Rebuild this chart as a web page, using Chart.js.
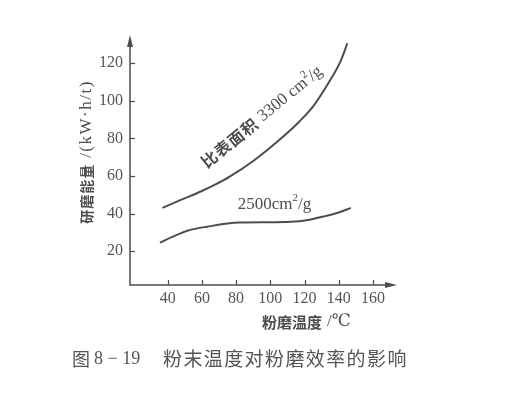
<!DOCTYPE html>
<html>
<head>
<meta charset="utf-8">
<script src="https://cdn.jsdelivr.net/npm/chart.js@4.4.1/dist/chart.umd.min.js"></script>
<style>
  html, body { margin: 0; padding: 0; background: #fff; }
  #wrap { width: 506px; height: 393px; position: relative; }
</style>
</head>
<body>
<div id="wrap"><canvas id="c" width="506" height="393"></canvas></div>
<script>
// data
const xTicks = [40, 60, 80, 100, 120, 140, 160];
const yTicks = [20, 40, 60, 80, 100, 120];

const temp3300 = [37, 47, 60, 68, 76, 90, 105, 117, 125, 135, 141, 145];
const energy3300 = [43, 47, 52, 55.5, 59.5, 68, 79, 89, 97, 111, 121, 130.5];

const temp2500 = [35.5, 45, 52, 63, 82, 100, 112, 122, 131, 140, 147];
const energy2500 = [24.5, 28.5, 31, 33, 35.2, 35.4, 35.6, 36.6, 38.4, 40.6, 43];

const ink = '#4d4d4d';
const serif = "'Liberation Serif', 'DejaVu Serif', serif";
const cjk = "'Noto Sans CJK SC', sans-serif";

function pts(xs, ys) {
    return xs.map((x, i) => ({x: x, y: ys[i]}));
}

// draw mixed text (cjk / serif / superscript pieces)
function setPiece(ctx, p) {
    ctx.font = p.font;
    ctx.letterSpacing = p.ls || '0px';
}
function drawPieces(ctx, pieces, x, y) {
    let cx = x;
    pieces.forEach(p => {
        setPiece(ctx, p);
        ctx.fillText(p.t, cx, y + (p.dy || 0));
        cx += ctx.measureText(p.t).width + (p.gap || 0);
    });
    ctx.letterSpacing = '0px';
    return cx - x;
}
function piecesWidth(ctx, pieces) {
    let w = 0;
    pieces.forEach(p => { setPiece(ctx, p); w += ctx.measureText(p.t).width + (p.gap || 0); });
    ctx.letterSpacing = '0px';
    return w;
}

const axesPlugin = {
    id: 'axesPlugin',
    afterDraw(chart) {
        const ctx = chart.ctx;
        const xs = chart.scales.x, ys = chart.scales.y;
        const left = chart.chartArea.left, bottom = chart.chartArea.bottom;
        const top = chart.chartArea.top, right = chart.chartArea.right;
        ctx.save();
        ctx.strokeStyle = ink;
        ctx.fillStyle = ink;
        ctx.lineWidth = 1.5;
        // axes
        ctx.beginPath();
        ctx.moveTo(left, top + 8);
        ctx.lineTo(left, bottom);
        ctx.lineTo(right - 8, bottom);
        ctx.stroke();
        // arrows
        ctx.beginPath();
        ctx.moveTo(left, top);
        ctx.lineTo(left - 3, top + 12);
        ctx.lineTo(left + 3, top + 12);
        ctx.closePath();
        ctx.fill();
        ctx.beginPath();
        ctx.moveTo(right, bottom);
        ctx.lineTo(right - 12, bottom - 3);
        ctx.lineTo(right - 12, bottom + 3);
        ctx.closePath();
        ctx.fill();
        // inward tick marks
        ctx.lineWidth = 1.2;
        xTicks.forEach(v => {
            const px = Math.round(xs.getPixelForValue(v)) + 0.5;
            ctx.beginPath();
            ctx.moveTo(px, bottom);
            ctx.lineTo(px, bottom - 5);
            ctx.stroke();
        });
        yTicks.forEach(v => {
            const py = Math.round(ys.getPixelForValue(v)) + 0.5;
            ctx.beginPath();
            ctx.moveTo(left, py);
            ctx.lineTo(left + 5, py);
            ctx.stroke();
        });

        ctx.textBaseline = 'middle';
        ctx.textAlign = 'left';
        // x title
        const xt = [
            {t: '粉磨温度', font: "bold 15px " + cjk, gap: 5},
            {t: '/℃', font: "17px " + serif}
        ];
        drawPieces(ctx, xt, 262, 322);

        // y title (rotated)
        const yt = [
            {t: '研磨能量', font: "bold 14px " + cjk, ls: '1px', gap: 6},
            {t: '/(kW·h/t)', font: "17px " + serif, ls: '1.5px'}
        ];
        ctx.save();
        ctx.translate(87, 0);
        ctx.rotate(-Math.PI / 2);
        const yw = piecesWidth(ctx, yt);
        drawPieces(ctx, yt, -152 - yw / 2, 0);
        ctx.restore();

        // curve labels
        const l1 = [
            {t: '比表面积', font: "bold 16px " + cjk, ls: '1px', gap: 5},
            {t: '3300 cm', font: "17px " + serif},
            {t: '2', font: "11px " + serif, dy: -6},
            {t: '/g', font: "17px " + serif}
        ];
        ctx.save();
        ctx.translate(xs.getPixelForValue(95), ys.getPixelForValue(91.5));
        ctx.rotate(-39 * Math.PI / 180);
        const w1 = piecesWidth(ctx, l1);
        drawPieces(ctx, l1, -w1 / 2, 0);
        ctx.restore();

        const l2 = [
            {t: '2500cm', font: "17px " + serif},
            {t: '2', font: "11px " + serif, dy: -6},
            {t: '/g', font: "17px " + serif}
        ];
        drawPieces(ctx, l2, xs.getPixelForValue(81), ys.getPixelForValue(45));

        // caption
        ctx.fillStyle = '#555';
        ctx.font = "18px " + cjk;
        ctx.fillText('图', 72, 359);
        ctx.font = "18px " + serif;
        ctx.fillText('8 − 19', 94, 359);
        ctx.font = "19px " + cjk;
        ctx.letterSpacing = '1.4px';
        ctx.fillText('粉末温度对粉磨效率的影响', 163, 359);
        ctx.restore();
    }
};

new Chart(document.getElementById('c'), {
    type: 'line',
    data: {
        datasets: [
            {
                label: '3300',
                data: pts(temp3300, energy3300),
                borderColor: ink,
                borderWidth: 2,
                pointRadius: 0,
                cubicInterpolationMode: 'monotone',
                fill: false
            },
            {
                label: '2500',
                data: pts(temp2500, energy2500),
                borderColor: ink,
                borderWidth: 2,
                pointRadius: 0,
                cubicInterpolationMode: 'monotone',
                fill: false
            }
        ]
    },
    options: {
        responsive: false,
        animation: false,
        devicePixelRatio: 1,
        layout: { padding: { left: 0, top: 35, right: 109, bottom: 0 } },
        plugins: { legend: { display: false }, tooltip: { enabled: false } },
        scales: {
            x: {
                type: 'linear',
                min: 18,
                max: 174,
                afterBuildTicks: s => { s.ticks = xTicks.map(v => ({value: v})); },
                afterFit: s => { s.height = 108; },
                grid: { display: false, drawTicks: false },
                border: { display: false },
                ticks: { color: '#555', padding: 4, font: { family: serif, size: 16 } }
            },
            y: {
                type: 'linear',
                min: 2,
                max: 135,
                afterBuildTicks: s => { s.ticks = yTicks.map(v => ({value: v})); },
                afterFit: s => { s.width = 130; },
                grid: { display: false, drawTicks: false },
                border: { display: false },
                ticks: { color: '#555', padding: 7, font: { family: serif, size: 16 } }
            }
        }
    },
    plugins: [axesPlugin]
});
</script>
</body>
</html>
